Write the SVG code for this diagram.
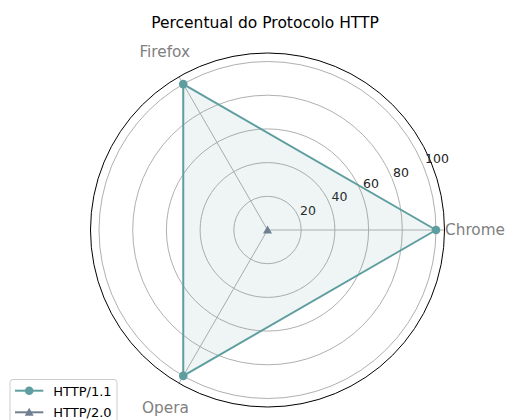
<svg xmlns="http://www.w3.org/2000/svg" width="507" height="420" viewBox="0 0 507 420">
<style>
text{font-family:"DejaVu Sans","Liberation Sans",sans-serif}
.grid{fill:none;stroke:#b0b0b0;stroke-width:1}
.tick{font-size:12.5px;fill:#222;text-anchor:middle}
.lab{font-size:15.3px;fill:#808080}
.leg{font-size:13px;fill:#000}
.s1{stroke:#5f9ea0;stroke-width:2;fill:none}
.m1{fill:#5f9ea0}
.s2{stroke:#708090;stroke-width:2;fill:none}
.m2{fill:#708090}
</style>
<rect width="507" height="420" fill="#fff"/>
<text x="265" y="27.5" text-anchor="middle" font-size="15.5" fill="#000">Percentual do Protocolo HTTP</text>
<g id="grid">
<circle class="grid" cx="267.5" cy="230" r="33.7"/>
<circle class="grid" cx="267.5" cy="230" r="67.4"/>
<circle class="grid" cx="267.5" cy="230" r="101.1"/>
<circle class="grid" cx="267.5" cy="230" r="134.8"/>
<circle class="grid" cx="267.5" cy="230" r="168.5"/>
<line class="grid" x1="267.5" y1="230" x2="444.5" y2="230"/>
<line class="grid" x1="267.5" y1="230" x2="179" y2="76.7"/>
<line class="grid" x1="267.5" y1="230" x2="179" y2="383.3"/>
<circle cx="267.5" cy="230" r="177" fill="none" stroke="#000" stroke-width="1"/>
</g>
<g id="ticks">
<text class="tick" x="308" y="214.5">20</text>
<text class="tick" x="339.5" y="200.5">40</text>
<text class="tick" x="371" y="187.5">60</text>
<text class="tick" x="401" y="176.5">80</text>
<text class="tick" x="437" y="162.5">100</text>
</g>
<g id="labels">
<text class="lab" x="164.7" y="56.5" text-anchor="middle">Firefox</text>
<text class="lab" x="445" y="235">Chrome</text>
<text class="lab" x="165.5" y="412.5" text-anchor="middle">Opera</text>
</g>
<g id="series-http11">
<polygon points="436,230 183.25,84.1 183.25,375.9" fill="#5f9ea0" fill-opacity="0.1" stroke="none"/>
<polygon class="s1" points="436,230 183.25,84.1 183.25,375.9" stroke-linejoin="round"/>
<circle class="m1" cx="436" cy="230" r="4.3"/>
<circle class="m1" cx="183.25" cy="84.1" r="4.3"/>
<circle class="m1" cx="183.25" cy="375.9" r="4.3"/>
</g>
<g id="series-http20">
<polygon class="m2" points="267.5,225.5 272,233.5 263,233.5"/>
</g>
<g id="legend">
<rect x="10" y="379.5" width="107" height="50" rx="3" fill="#fff" fill-opacity="0.8" stroke="#cccccc" stroke-width="1"/>
<line class="s1" x1="15" y1="390.7" x2="43.3" y2="390.7"/>
<circle class="m1" cx="29.2" cy="390.7" r="4.3"/>
<text class="leg" x="53.3" y="395.5">HTTP/1.1</text>
<line class="s2" x1="15" y1="412.3" x2="43.3" y2="412.3"/>
<polygon class="m2" points="29.2,407.8 33.7,415.8 24.7,415.8"/>
<text class="leg" x="53.3" y="417">HTTP/2.0</text>
</g>
</svg>
